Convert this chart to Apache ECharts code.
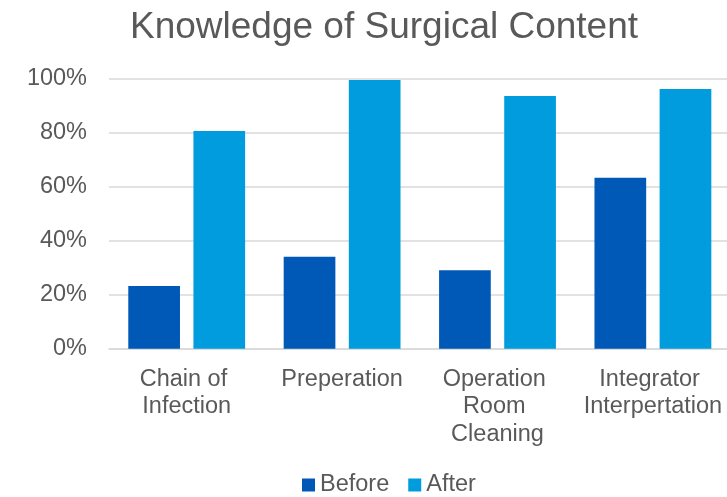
<!DOCTYPE html>
<html>
<head>
<meta charset="utf-8">
<script src="https://cdn.jsdelivr.net/npm/echarts@6/dist/echarts.min.js"></script>
<style>html,body{margin:0;padding:0;background:#fff;overflow:hidden;width:727px;height:497px;}#c{width:731px;height:497px;}</style>
</head>
<body>
<div id="c"></div>
<script>
var categories = ["Chain of Infection", "Preperation", "Operation Room Cleaning", "Integrator Interpertation"];
var beforeValues = [23.2, 34.0, 29.0, 63.2];
var afterValues = [80.5, 99.4, 93.5, 96.0];
var yTicks = [0, 20, 40, 60, 80, 100];
var seriesNames = ["Before", "After"];
var titleText = "Knowledge of Surgical Content";

var font = "'Liberation Sans', Arial, sans-serif";
var txt = "#595959";
var chart = echarts.init(document.getElementById('c'), null, {renderer: 'canvas'});
chart.setOption({
  animation: false,
  backgroundColor: '#ffffff',
  title: {
    text: titleText,
    left: 130,
    top: 9,
    padding: 0,
    textStyle: {fontFamily: font, fontSize: 37, fontWeight: 'normal', color: txt}
  },
  legend: {
    data: seriesNames,
    left: 302,
    top: 473,
    padding: 0,
    itemWidth: 13,
    itemHeight: 13,
    itemGap: 19,
    icon: 'rect',
    textStyle: {fontFamily: font, fontSize: 23.5, color: txt}
  },
  grid: {left: 109, right: 0.4, top: 78.3, bottom: 148.3, containLabel: false},
  xAxis: {
    type: 'category',
    data: categories,
    axisLine: {show: true, lineStyle: {color: '#D9D9D9', width: 1.5}},
    axisTick: {show: false},
    axisLabel: {
      interval: 0,
      margin: 17,
      fontFamily: font,
      fontSize: 23.5,
      lineHeight: 27.5,
      color: txt,
      width: 150,
      overflow: 'break',
      align: 'center'
    }
  },
  yAxis: {
    type: 'value',
    min: yTicks[0],
    max: yTicks[yTicks.length - 1],
    interval: yTicks[1] - yTicks[0],
    axisLine: {show: false},
    axisTick: {show: false},
    splitLine: {lineStyle: {color: '#D9D9D9', width: 1.5}},
    axisLabel: {
      margin: 22,
      fontFamily: font,
      fontSize: 23.5,
      color: txt,
      formatter: '{value}%'
    }
  },
  series: [
    {name: seriesNames[0], type: 'bar', data: beforeValues, barWidth: 51.7, barGap: '26%',
     itemStyle: {color: '#0059B7'}},
    {name: seriesNames[1], type: 'bar', data: afterValues, barWidth: 51.7, barGap: '26%',
     itemStyle: {color: '#009CDE'}}
  ]
});
</script>
</body>
</html>
